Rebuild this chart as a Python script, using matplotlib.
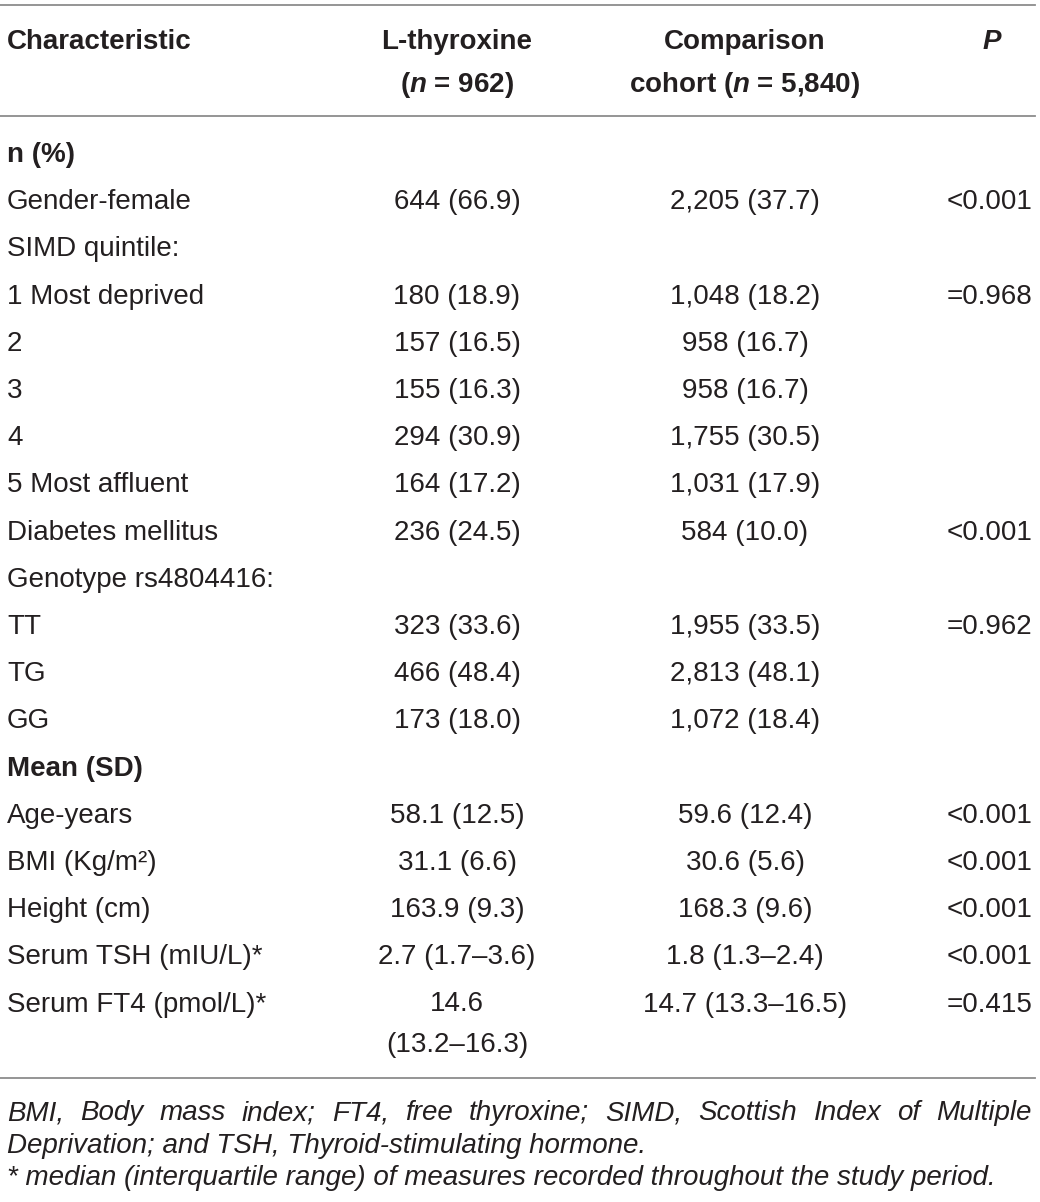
import matplotlib.pyplot as plt

plt.rcParams['font.family'] = ['Liberation Sans', 'DejaVu Sans']
plt.rcParams['mathtext.fontset'] = 'custom'
plt.rcParams['mathtext.rm'] = 'Liberation Sans'
plt.rcParams['mathtext.it'] = 'Liberation Sans:italic'
plt.rcParams['mathtext.bf'] = 'Liberation Sans:bold'
plt.rcParams['mathtext.bfit'] = 'Liberation Sans:italic:bold'

# table contents
characteristic = ['n (%)', 'Gender-female', 'SIMD quintile:', '1 Most deprived', '2', '3', '4',
                  '5 Most affluent', 'Diabetes mellitus', 'Genotype rs4804416:', 'TT', 'TG', 'GG',
                  'Mean (SD)', 'Age-years', 'BMI (Kg/m\u00b2)', 'Height (cm)',
                  'Serum TSH (mIU/L)*', 'Serum FT4 (pmol/L)*']
lthyroxine = ['', '644 (66.9)', '', '180 (18.9)', '157 (16.5)', '155 (16.3)', '294 (30.9)',
              '164 (17.2)', '236 (24.5)', '', '323 (33.6)', '466 (48.4)', '173 (18.0)',
              '', '58.1 (12.5)', '31.1 (6.6)', '163.9 (9.3)', '2.7 (1.7\u20133.6)',
              '14.6\n(13.2\u201316.3)']
comparison = ['', '2,205 (37.7)', '', '1,048 (18.2)', '958 (16.7)', '958 (16.7)', '1,755 (30.5)',
              '1,031 (17.9)', '584 (10.0)', '', '1,955 (33.5)', '2,813 (48.1)', '1,072 (18.4)',
              '', '59.6 (12.4)', '30.6 (5.6)', '168.3 (9.6)', '1.8 (1.3\u20132.4)',
              '14.7 (13.3\u201316.5)']
p_value = ['', '<0.001', '', '=0.968', '', '', '', '', '<0.001', '', '=0.962', '', '',
           '', '<0.001', '<0.001', '<0.001', '<0.001', '=0.415']
section_rows = ['n (%)', 'Mean (SD)']

footnote1 = 'BMI, Body mass index; FT4, free thyroxine; SIMD, Scottish Index of Multiple'
footnote2 = 'Deprivation; and TSH, Thyroid-stimulating hormone.'
footnote3 = '* median (interquartile range) of measures recorded throughout the study period.'

W, H = 1040, 1202
fig = plt.figure(figsize=(W / 100, H / 100), dpi=100)
ax = fig.add_axes([0, 0, 1, 1])
ax.set_xlim(0, W)
ax.set_ylim(H, 0)
ax.axis('off')

txt = '#231f20'
fs = 20
x_left, x_c1, x_c2, x_right = 7, 457, 745, 1032

# rules
for y in [5, 116, 1078]:
    ax.plot([0, 1035], [y, y], color='#8c8c8c', lw=1.3)

# header
ax.text(x_left, 42, 'Characteristic', fontsize=fs, fontweight='bold', color=txt, va='center')
ax.text(x_c1, 42, 'L-thyroxine', fontsize=fs, fontweight='bold', color=txt, va='center', ha='center')
ax.text(x_c1, 85, r'($\mathbfit{n}$ = 962)', fontsize=fs, fontweight='bold', color=txt,
        va='center', ha='center')
ax.text(x_c2, 42, 'Comparison', fontsize=fs, fontweight='bold', color=txt, va='center', ha='center')
ax.text(x_c2, 85, r'cohort ($\mathbfit{n}$ = 5,840)', fontsize=fs, fontweight='bold', color=txt,
        va='center', ha='center')
ax.text(992, 42, 'P', fontsize=fs, fontweight='bold', fontstyle='italic', color=txt,
        va='center', ha='center')

# body rows
y0, step = 155, 47.2
for i, name in enumerate(characteristic):
    y = y0 + i * step
    bold = name in section_rows
    ax.text(x_left, y, name, fontsize=fs, color=txt, va='center',
            fontweight='bold' if bold else 'normal')
    ax.text(x_c1, y, lthyroxine[i], fontsize=fs, color=txt, va='top', ha='center',
            linespacing=1.75, transform=ax.transData) if '\n' in lthyroxine[i] else \
        ax.text(x_c1, y, lthyroxine[i], fontsize=fs, color=txt, va='center', ha='center')
    ax.text(x_c2, y, comparison[i], fontsize=fs, color=txt, va='center', ha='center')
    ax.text(x_right, y, p_value[i], fontsize=fs, color=txt, va='center', ha='right')

# fix the two-line cell so its first line sits on the row centre
for t in ax.texts:
    if '\n' in t.get_text():
        t.set_y(y0 + (len(characteristic) - 1) * step - 14)

# footnote, first line justified across the full width
fig.canvas.draw()
renderer = fig.canvas.get_renderer()
words = footnote1.split(' ')
widths = []
for w in words:
    t = ax.text(0, 0, w, fontsize=fs, fontstyle='italic')
    bb = t.get_window_extent(renderer)
    widths.append(bb.width)
    t.remove()
gap = (x_right - x_left - sum(widths)) / (len(words) - 1)
x = x_left
for w, wd in zip(words, widths):
    ax.text(x, 1113, w, fontsize=fs, fontstyle='italic', color=txt, va='center')
    x += wd + gap
ax.text(x_left, 1146, footnote2, fontsize=fs, fontstyle='italic', color=txt, va='center')
ax.text(x_left, 1178, footnote3, fontsize=fs, fontstyle='italic', color=txt, va='center')

fig.savefig('out.png', dpi=100, facecolor='white')
